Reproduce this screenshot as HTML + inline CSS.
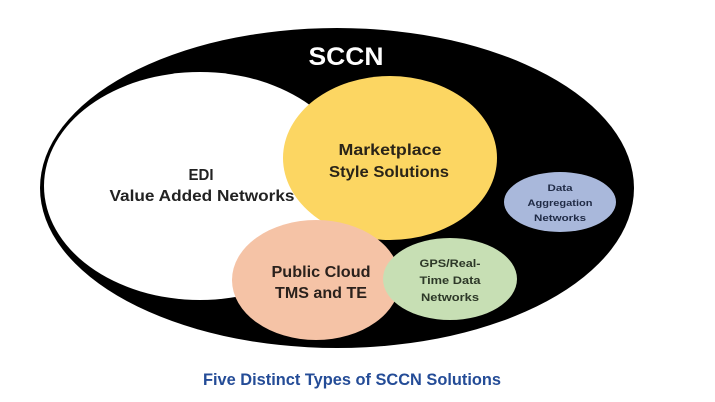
<!DOCTYPE html>
<html>
<head>
<meta charset="utf-8">
<style>
html,body{margin:0;padding:0;background:#fff;}
svg{display:block;}
text{font-family:"Liberation Sans",Arial,sans-serif;font-weight:bold;}
</style>
</head>
<body>
<svg width="715" height="402" viewBox="0 0 715 402" xmlns="http://www.w3.org/2000/svg">
  <rect width="715" height="402" fill="#ffffff"/>
  <!-- outer black ellipse -->
  <ellipse cx="337" cy="188" rx="297" ry="160" fill="#000"/>
  <!-- EDI white ellipse -->
  <ellipse cx="200" cy="186" rx="156" ry="114" fill="#fff"/>
  <!-- Marketplace yellow -->
  <ellipse cx="390" cy="158" rx="107" ry="82" fill="#FCD662"/>
  <!-- Public Cloud pink -->
  <ellipse cx="316" cy="280" rx="84" ry="60" fill="#F5C3A6"/>
  <!-- GPS green -->
  <ellipse cx="450" cy="279" rx="67" ry="41" fill="#C7DFB4"/>
  <!-- Data Aggregation blue -->
  <ellipse cx="560" cy="202" rx="56" ry="30" fill="#A9B8DB"/>

  <!-- SCCN -->
  <text x="346" y="65" font-size="25" fill="#fff" text-anchor="middle" textLength="75" lengthAdjust="spacingAndGlyphs">SCCN</text>

  <!-- EDI -->
  <text x="201" y="180" font-size="16" fill="#222" text-anchor="middle" textLength="25" lengthAdjust="spacingAndGlyphs">EDI</text>
  <text x="202" y="201" font-size="16" fill="#222" text-anchor="middle" textLength="185" lengthAdjust="spacingAndGlyphs">Value Added Networks</text>

  <!-- Marketplace -->
  <text x="390" y="155" font-size="16" fill="#2a2418" text-anchor="middle" textLength="103" lengthAdjust="spacingAndGlyphs">Marketplace</text>
  <text x="389" y="177" font-size="16" fill="#2a2418" text-anchor="middle" textLength="120" lengthAdjust="spacingAndGlyphs">Style Solutions</text>

  <!-- Public Cloud -->
  <text x="321" y="277" font-size="16" fill="#2a211c" text-anchor="middle" textLength="99" lengthAdjust="spacingAndGlyphs">Public Cloud</text>
  <text x="321" y="298" font-size="16" fill="#2a211c" text-anchor="middle" textLength="92" lengthAdjust="spacingAndGlyphs">TMS and TE</text>

  <!-- GPS -->
  <text x="450" y="267" font-size="11" fill="#2d3828" text-anchor="middle" textLength="61" lengthAdjust="spacingAndGlyphs">GPS/Real-</text>
  <text x="450" y="284" font-size="11" fill="#2d3828" text-anchor="middle" textLength="61" lengthAdjust="spacingAndGlyphs">Time Data</text>
  <text x="450" y="301" font-size="11" fill="#2d3828" text-anchor="middle" textLength="58" lengthAdjust="spacingAndGlyphs">Networks</text>

  <!-- Data Aggregation -->
  <text x="560" y="191" font-size="9.5" fill="#1f2a45" text-anchor="middle" textLength="25" lengthAdjust="spacingAndGlyphs">Data</text>
  <text x="560" y="206" font-size="9.5" fill="#1f2a45" text-anchor="middle" textLength="65" lengthAdjust="spacingAndGlyphs">Aggregation</text>
  <text x="560" y="221" font-size="9.5" fill="#1f2a45" text-anchor="middle" textLength="52" lengthAdjust="spacingAndGlyphs">Networks</text>

  <!-- caption -->
  <text x="352" y="385" font-size="16.5" fill="#244C97" text-anchor="middle" textLength="298" lengthAdjust="spacingAndGlyphs">Five Distinct Types of SCCN Solutions</text>
</svg>
</body>
</html>
